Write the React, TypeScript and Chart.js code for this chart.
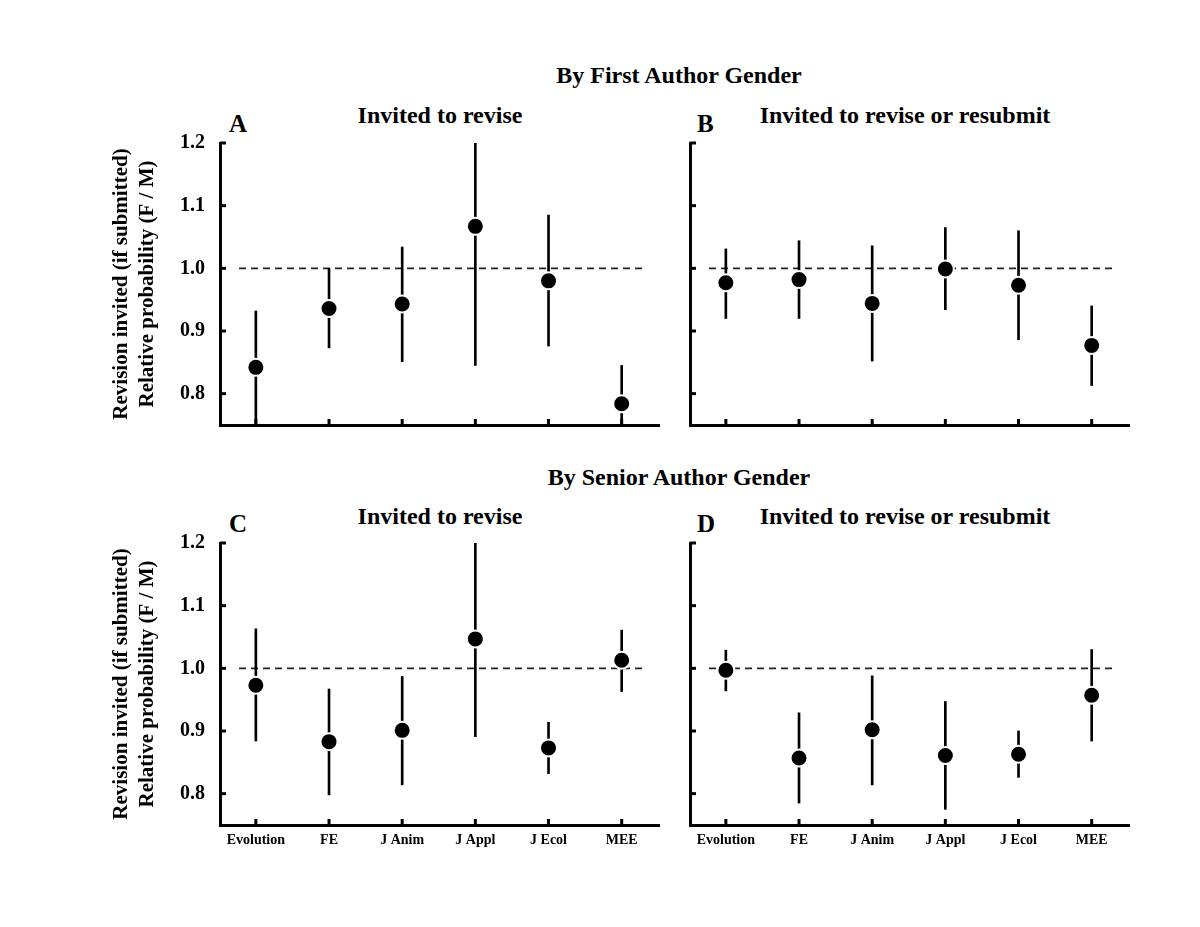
import React, { useEffect, useRef } from "react";
import { Chart, registerables } from "chart.js";

Chart.register(...registerables);

const FONT = '"Liberation Serif", "Times New Roman", Times, serif';

// ---- data ----
const categories = ["Evolution", "FE", "J Anim", "J Appl", "J Ecol", "MEE"];
const yTickValues = [0.8, 0.9, 1.0, 1.1, 1.2];
const yMin = 0.75;
const yMax = 1.2;
const referenceValue = 1.0;
const yTitleLines = ["Revision invited (if submitted)", "Relative probability (F / M)"];

// A: first author, invited to revise
const firstReviseEst = [0.842, 0.936, 0.943, 1.067, 0.98, 0.784];
const firstReviseLow = [0.75, 0.873, 0.851, 0.845, 0.876, 0.75];
const firstReviseHigh = [0.932, 1.0, 1.034, 1.2, 1.085, 0.845];
// B: first author, invited to revise or resubmit
const firstResubEst = [0.977, 0.982, 0.944, 0.999, 0.973, 0.877];
const firstResubLow = [0.92, 0.92, 0.852, 0.934, 0.886, 0.813];
const firstResubHigh = [1.031, 1.044, 1.036, 1.065, 1.06, 0.94];
// C: senior author, invited to revise
const seniorReviseEst = [0.973, 0.883, 0.901, 1.047, 0.873, 1.013];
const seniorReviseLow = [0.884, 0.798, 0.814, 0.891, 0.832, 0.963];
const seniorReviseHigh = [1.063, 0.967, 0.987, 1.2, 0.914, 1.061];
// D: senior author, invited to revise or resubmit
const seniorResubEst = [0.997, 0.857, 0.902, 0.861, 0.863, 0.957];
const seniorResubLow = [0.964, 0.785, 0.814, 0.775, 0.826, 0.884];
const seniorResubHigh = [1.029, 0.929, 0.988, 0.947, 0.9, 1.03];

// x extent (category units) and reference line extent
const xMin = 0.51;
const xMax = 6.51;
const refLineStart = 0.77;
const refLineEnd = 6.3;

const inwardTicks = {
  id: "inwardTicks",
  afterDraw(chart: any) {
    const { ctx, chartArea, scales } = chart;
    ctx.save();
    ctx.strokeStyle = "#000";
    ctx.lineWidth = 3;
    ctx.lineCap = "butt";
    scales.y.ticks.forEach((t: any) => {
      const y = scales.y.getPixelForValue(t.value);
      ctx.beginPath();
      ctx.moveTo(chartArea.left, y);
      ctx.lineTo(chartArea.left + 6, y);
      ctx.stroke();
    });
    scales.x.ticks.forEach((t: any) => {
      const x = scales.x.getPixelForValue(t.value);
      ctx.beginPath();
      ctx.moveTo(x, chartArea.bottom);
      ctx.lineTo(x, chartArea.bottom - 6);
      ctx.stroke();
    });
    ctx.restore();
  },
};

type PanelProps = {
  est: number[];
  low: number[];
  high: number[];
  showYLabels: boolean;
  showXLabels: boolean;
  left: number;
  top: number;
  width: number;
  height: number;
  yWidth: number;
  xHeight: number;
  padTop: number;
  padRight: number;
};

function Panel(p: PanelProps) {
  const ref = useRef<HTMLCanvasElement>(null);
  useEffect(() => {
    if (!ref.current) return;
    const chart = new Chart(ref.current, {
      type: "scatter",
      data: {
        datasets: [
          {
            type: "scatter",
            data: categories.map((_, i) => ({ x: i + 1, y: p.est[i] })),
            pointRadius: 8.5,
            pointBackgroundColor: "#000",
            pointBorderColor: "#fff",
            pointBorderWidth: 2,
            showLine: false,
            order: 0,
          } as any,
          {
            type: "bar",
            data: categories.map((_, i) => ({ x: i + 1, y: [p.low[i], p.high[i]] })),
            backgroundColor: "#000",
            barThickness: 2,
            borderWidth: 0,
            order: 1,
          } as any,
          {
            type: "line",
            data: [
              { x: refLineStart, y: referenceValue },
              { x: refLineEnd, y: referenceValue },
            ],
            borderColor: "#222",
            borderWidth: 1.6,
            borderDash: [7, 5],
            pointRadius: 0,
            fill: false,
            order: 2,
          } as any,
        ],
      },
      options: {
        responsive: false,
        animation: false,
        events: [],
        layout: { padding: { top: p.padTop, right: p.padRight, bottom: 0, left: 0 } },
        plugins: { legend: { display: false }, tooltip: { enabled: false } },
        scales: {
          x: {
            type: "linear",
            min: xMin,
            max: xMax,
            offset: false,
            afterBuildTicks: (s: any) => {
              s.ticks = categories.map((_, i) => ({ value: i + 1 }));
            },
            afterFit: (s: any) => {
              s.height = p.xHeight;
            },
            grid: { display: false, drawTicks: false, offset: false },
            border: { display: true, width: 3, color: "#000" },
            ticks: {
              display: p.showXLabels,
              autoSkip: false,
              maxRotation: 0,
              minRotation: 0,
              padding: 7,
              color: "#000",
              font: { family: FONT, size: 14, weight: "bold" },
              callback: (v: any) => categories[Math.round(Number(v)) - 1],
            },
          },
          y: {
            type: "linear",
            min: yMin,
            max: yMax,
            beginAtZero: false,
            afterBuildTicks: (s: any) => {
              s.ticks = yTickValues.map((v) => ({ value: v }));
            },
            afterFit: (s: any) => {
              s.width = p.yWidth;
            },
            grid: {
              display: true,
              drawOnChartArea: false,
              drawTicks: true,
              tickLength: 15,
              color: "rgba(0,0,0,0)",
              tickColor: "rgba(0,0,0,0)",
              lineWidth: 0,
            },
            border: { display: true, width: 3, color: "#000" },
            ticks: {
              display: p.showYLabels,
              padding: 0,
              color: "#000",
              font: { family: FONT, size: 20, weight: "bold" },
              callback: (v: any) => Number(v).toFixed(1),
            },
            title: {
              display: p.showYLabels,
              text: yTitleLines,
              color: "#000",
              font: { family: FONT, size: 21, weight: "bold", lineHeight: "26px" },
              padding: { top: 9, bottom: 0 },
            },
          },
        },
      } as any,
      plugins: [inwardTicks],
    });
    return () => chart.destroy();
  }, []);
  return (
    <canvas
      ref={ref}
      width={p.width}
      height={p.height}
      style={{ position: "absolute", left: p.left, top: p.top, width: p.width, height: p.height }}
    />
  );
}

function Txt(props: { x: number; baseline: number; size: number; center?: boolean; children: string }) {
  const { x, baseline, size, center, children } = props;
  const top = baseline - 0.8375 * size;
  return (
    <div
      style={{
        position: "absolute",
        top,
        left: center ? x - 400 : x,
        width: center ? 800 : undefined,
        textAlign: center ? "center" : "left",
        fontSize: size,
        lineHeight: `${size}px`,
        whiteSpace: "nowrap",
      }}
    >
      {children}
    </div>
  );
}

export default function App() {
  return (
    <div
      style={{
        position: "absolute",
        left: 0,
        top: 0,
        width: 1200,
        height: 927,
        background: "#fff",
        overflow: "hidden",
        fontFamily: FONT,
        fontWeight: "bold",
        color: "#000",
      }}
    >
      <Txt x={679} baseline={83} size={24} center>By First Author Gender</Txt>
      <Txt x={229} baseline={132} size={25}>A</Txt>
      <Txt x={440} baseline={123} size={24} center>Invited to revise</Txt>
      <Txt x={697} baseline={132} size={25}>B</Txt>
      <Txt x={905} baseline={123} size={24} center>Invited to revise or resubmit</Txt>

      <Txt x={679} baseline={485} size={24} center>By Senior Author Gender</Txt>
      <Txt x={229} baseline={532} size={25}>C</Txt>
      <Txt x={440} baseline={524} size={24} center>Invited to revise</Txt>
      <Txt x={697} baseline={532} size={25}>D</Txt>
      <Txt x={905} baseline={524} size={24} center>Invited to revise or resubmit</Txt>

      <Panel est={firstReviseEst} low={firstReviseLow} high={firstReviseHigh}
        showYLabels showXLabels={false}
        left={100} top={130} width={580} height={320} yWidth={120} xHeight={25} padTop={13} padRight={21} />
      <Panel est={firstResubEst} low={firstResubLow} high={firstResubHigh}
        showYLabels={false} showXLabels={false}
        left={660} top={130} width={490} height={320} yWidth={30} xHeight={25} padTop={13} padRight={21} />
      <Panel est={seniorReviseEst} low={seniorReviseLow} high={seniorReviseHigh}
        showYLabels showXLabels
        left={100} top={530} width={580} height={330} yWidth={120} xHeight={35} padTop={13} padRight={21} />
      <Panel est={seniorResubEst} low={seniorResubLow} high={seniorResubHigh}
        showYLabels={false} showXLabels
        left={660} top={530} width={490} height={330} yWidth={30} xHeight={35} padTop={13} padRight={21} />
    </div>
  );
}
